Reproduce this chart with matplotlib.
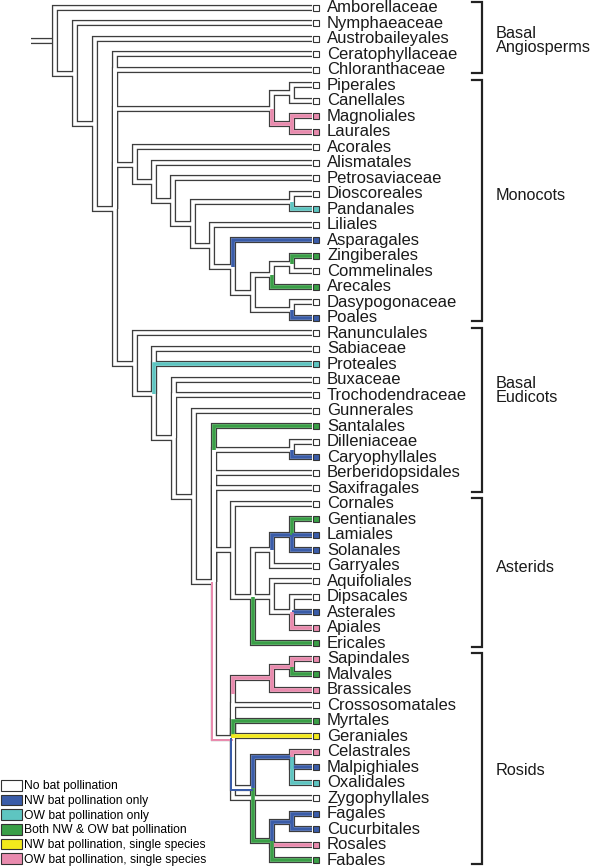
import matplotlib
matplotlib.use("Agg")
import matplotlib.pyplot as plt
from matplotlib.patches import Patch

plt.rcParams['font.family'] = ['Liberation Sans', 'DejaVu Sans']

# ---- data -------------------------------------------------------------
taxa = ["Amborellaceae", "Nymphaeaceae", "Austrobaileyales", "Ceratophyllaceae",
        "Chloranthaceae", "Piperales", "Canellales", "Magnoliales", "Laurales",
        "Acorales", "Alismatales", "Petrosaviaceae", "Dioscoreales", "Pandanales",
        "Liliales", "Asparagales", "Zingiberales", "Commelinales", "Arecales",
        "Dasypogonaceae", "Poales", "Ranunculales", "Sabiaceae", "Proteales",
        "Buxaceae", "Trochodendraceae", "Gunnerales", "Santalales", "Dilleniaceae",
        "Caryophyllales", "Berberidopsidales", "Saxifragales", "Cornales",
        "Gentianales", "Lamiales", "Solanales", "Garryales", "Aquifoliales",
        "Dipsacales", "Asterales", "Apiales", "Ericales", "Sapindales", "Malvales",
        "Brassicales", "Crossosomatales", "Myrtales", "Geraniales", "Celastrales",
        "Malpighiales", "Oxalidales", "Zygophyllales", "Fagales", "Cucurbitales",
        "Rosales", "Fabales"]

# 0 none, 1 NW only, 2 OW only, 3 both, 4 NW single sp., 5 OW single sp.
taxon_state = [0, 0, 0, 0, 0, 0, 0, 5, 5,
               0, 0, 0, 0, 2, 0, 1, 3, 0, 3, 0, 1,
               0, 0, 2, 0, 0, 0,
               3, 0, 1, 0, 0,
               0, 3, 1, 1, 0, 0, 0, 1, 5, 3,
               5, 3, 5, 0, 3, 4, 5, 1, 2, 0, 1, 1, 5, 3]

state_names = ["No bat pollination", "NW bat pollination only", "OW bat pollination only",
               "Both NW & OW bat pollination", "NW bat pollination, single species",
               "OW bat pollination, single species"]
state_colors = ["#ffffff", "#3a5ca8", "#5ec5c1", "#3a9f47", "#f3ea1c", "#e98bae"]

# internal nodes: name -> (depth in px, children top to bottom)
clades = {
    'root': (55, ['Amborellaceae', 'n1']),
    'n1': (75, ['Nymphaeaceae', 'n2']),
    'n2': (95, ['Austrobaileyales', 'mesang']),
    'mesang': (115, ['Ceratophyllaceae', 'Chloranthaceae', 'magnoliids', 'monocots', 'eudicots']),
    'magnoliids': (271.5, ['pip_can', 'mag_lau']),
    'pip_can': (292, ['Piperales', 'Canellales']),
    'mag_lau': (292, ['Magnoliales', 'Laurales']),
    'monocots': (134.5, ['Acorales', 'm1']),
    'm1': (153.5, ['Alismatales', 'm2']),
    'm2': (173, ['Petrosaviaceae', 'm3']),
    'm3': (192.5, ['dio_pan', 'm4']),
    'dio_pan': (292, ['Dioscoreales', 'Pandanales']),
    'm4': (211.5, ['Liliales', 'm5']),
    'm5': (232.5, ['Asparagales', 'm6']),
    'm6': (252.5, ['commelinids', 'das_poa']),
    'commelinids': (271.5, ['zin_com', 'Arecales']),
    'zin_com': (292, ['Zingiberales', 'Commelinales']),
    'das_poa': (292, ['Dasypogonaceae', 'Poales']),
    'eudicots': (134.5, ['Ranunculales', 'e1']),
    'e1': (154, ['Sabiaceae', 'Proteales', 'e2']),
    'e2': (173.5, ['Buxaceae', 'Trochodendraceae', 'e3']),
    'e3': (193.5, ['Gunnerales', 'core']),
    'core': (213.5, ['Santalales', 'dil_car', 'Berberidopsidales', 'Saxifragales',
                     'asterids', 'rosids']),
    'dil_car': (292, ['Dilleniaceae', 'Caryophyllales']),
    'asterids': (232.5, ['Cornales', 'a1']),
    'a1': (252.5, ['lamiids', 'campanulids', 'Ericales']),
    'lamiids': (271.5, ['gls', 'Garryales']),
    'gls': (292, ['Gentianales', 'Lamiales', 'Solanales']),
    'campanulids': (271.5, ['Aquifoliales', 'c1']),
    'c1': (292, ['Dipsacales', 'Asterales', 'Apiales']),
    'rosids': (232.5, ['malvids', 'Crossosomatales', 'Myrtales', 'Geraniales',
                       'fabids', 'Zygophyllales']),
    'malvids': (271.5, ['sap_mal', 'Brassicales']),
    'sap_mal': (292, ['Sapindales', 'Malvales']),
    'fabids': (252.5, ['com', 'nfix']),
    'com': (292, ['Celastrales', 'Malpighiales', 'Oxalidales']),
    'nfix': (271.5, ['fag_cuc', 'Rosales', 'Fabales']),
    'fag_cuc': (292, ['Fagales', 'Cucurbitales']),
}
# node rows read off the figure where they are not centred on their children
node_row = {'com': 48.3, 'fabids': 50.3}

# state of internal branches (the branch leading to the node)
branch_state = {'mag_lau': 5, 'gls': 1, 'malvids': 5, 'sap_mal': 5,
                'com': 1, 'fag_cuc': 1, 'nfix': 3}
# equivocal branches: white with a coloured stripe
striped = {'rosids': 5, 'fabids': 1}
# fraction of the vertical part that is coloured (default whole way)
color_reach = {'Santalales': 0.15, 'malvids': 0.26}

clade_names = [["Basal", "Angiosperms"], ["Monocots"], ["Basal", "Eudicots"],
               ["Asterids"], ["Rosids"]]
clade_first = ["Amborellaceae", "Piperales", "Ranunculales", "Cornales", "Sapindales"]
clade_last = ["Chloranthaceae", "Poales", "Saxifragales", "Ericales", "Fabales"]
clade_text_row = [2.1, 12.1, 24.7, 36.1, 49.2]

# ---- layout -----------------------------------------------------------
W, H = 594, 867
ROW = 15.5           # px per taxon row
TOP = 8              # px centre of first row
TIP = 312
PX = 72 / 100        # points per pixel
OUTLINE = "#3d3d3d"
TUBE, FILL = 6.2, 3.6

fig = plt.figure(figsize=(W / 100, H / 100), dpi=100)
ax = fig.add_axes([0, 0, 1, 1])
ax.set_xlim(0, W)
ax.set_ylim((H - TOP) / ROW, -TOP / ROW)
ax.axis('off')

idx = {t: i for i, t in enumerate(taxa)}


def ypos(name):
    if name in idx:
        return idx[name]
    if name in node_row:
        return node_row[name]
    kids = clades[name][1]
    return (ypos(kids[0]) + ypos(kids[-1])) / 2


def xpos(name):
    return clades[name][0] if name in clades else TIP


def state_of(name):
    if name in idx:
        return taxon_state[idx[name]]
    return branch_state.get(name, 0)


def clean(pts):
    out = [pts[0]]
    for p in pts[1:]:
        if p != out[-1]:
            out.append(p)
    return out


edges = []
for parent, (xp, kids) in clades.items():
    yp = ypos(parent)
    for c in kids:
        edges.append((xp, yp, xpos(c), ypos(c), c))

kw = dict(solid_joinstyle='miter', solid_capstyle='butt')

# root stub
ry = ypos('root')
ax.plot([31, 55], [ry, ry], color=OUTLINE, lw=TUBE * PX, **kw)
ax.plot([31, 55], [ry, ry], color='white', lw=FILL * PX, **kw)

# outlines
for xp, yp, xc, yc, c in edges:
    pts = clean([(xp, yp), (xp, yc), (xc, yc)])
    ax.plot(*zip(*pts), color=OUTLINE, lw=TUBE * PX, **kw)
# white fill
for xp, yp, xc, yc, c in edges:
    pts = clean([(xp, yp), (xp, yc), (xc, yc)])
    ax.plot(*zip(*pts), color='white', lw=FILL * PX, **kw)
# coloured fill
for xp, yp, xc, yc, c in edges:
    s = state_of(c)
    if s == 0:
        continue
    ys = yc + (yp - yc) * color_reach.get(c, 1.0)
    pts = clean([(xp, ys), (xp, yc), (xc, yc)])
    ax.plot(*zip(*pts), color=state_colors[s], lw=FILL * PX, **kw)
# equivocal stripes along the outer edge
for xp, yp, xc, yc, c in edges:
    if c not in striped:
        continue
    off = 2.0
    pts = [(xp - off, yp), (xp - off, yc + off / ROW), (xc, yc + off / ROW)]
    ax.plot(*zip(*pts), color=state_colors[striped[c]], lw=2.0 * PX, **kw)

# tip squares and names
for i, t in enumerate(taxa):
    ax.plot(TIP + 3.8, i, marker='s', ms=5.6 * PX, mfc=state_colors[taxon_state[i]],
            mec='#333333', mew=1.1 * PX, ls='none')
    ax.text(327, i, t, fontsize=12, va='center', ha='left', color='#1a1a1a')

# clade brackets
for names, a, b, row in zip(clade_names, clade_first, clade_last, clade_text_row):
    y0, y1 = idx[a] - 0.38, idx[b] + 0.2
    ax.plot([472, 482, 482, 472], [y0, y0, y1, y1], color='#222222', lw=2.2 * PX,
            solid_joinstyle='miter')
    ax.text(496, row, "\n".join(names), fontsize=11.7, va='center', ha='left',
            linespacing=0.9, color='#1a1a1a')

handles = [Patch(facecolor=c, edgecolor='#333333', linewidth=0.8, label=n)
           for c, n in zip(state_colors, state_names)]
ax.legend(handles=handles, loc='lower left', bbox_to_anchor=(0.0, 0.0), frameon=False,
          fontsize=8.7, handlelength=1.7, handleheight=0.95, handletextpad=0.2,
          labelspacing=0.19, borderaxespad=0.0, borderpad=0.1)

fig.savefig("out.png", dpi=100)
